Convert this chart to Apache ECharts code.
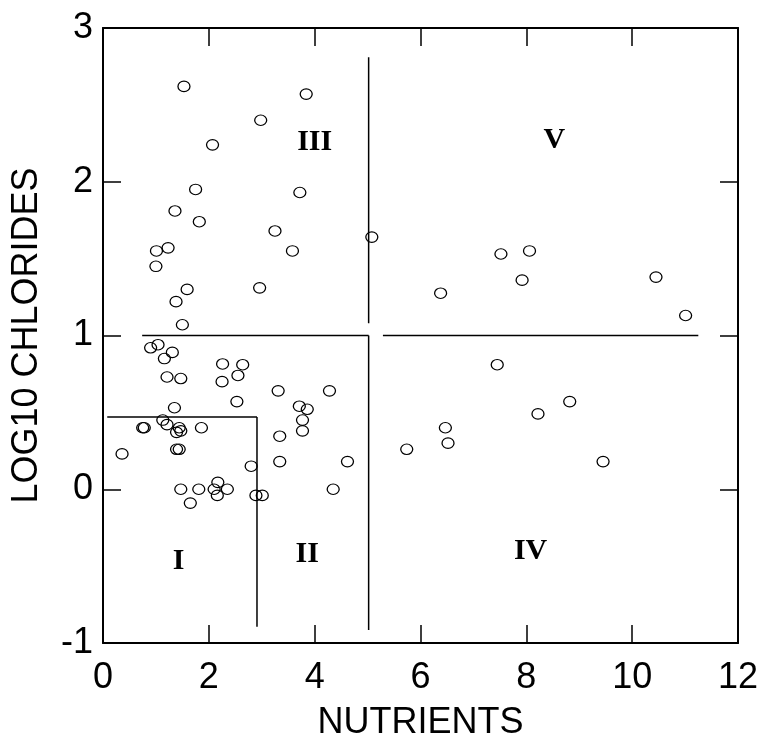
<!DOCTYPE html>
<html>
<head>
<meta charset="utf-8">
<script src="https://cdn.jsdelivr.net/npm/echarts@6/dist/echarts.min.js"></script>
<style>html,body{margin:0;padding:0;background:#fff;}#chart{width:762px;height:736px;}</style>
</head>
<body>
<div id="chart"></div>
<script>
// Data points: [nutrients, log10 chlorides]
var nutrients = [1.53,3.84,2.98,2.07,1.75,3.72,1.36,1.82,3.25,5.08,1.01,1.23,3.58,1.00,1.59,2.96,1.38,1.50,
  0.90,1.04,1.31,1.16,2.26,2.64,2.55,2.25,1.21,1.47,3.31,4.28,2.53,1.35,3.71,3.86,3.77,1.13,1.21,0.75,0.78,1.44,1.39,1.47,1.86,3.77,3.34,0.36,1.39,1.44,2.80,3.34,4.62,1.47,1.81,2.17,2.10,2.35,2.16,1.65,2.89,3.01,4.35,
  7.52,8.06,7.92,6.38,10.45,11.01,7.45,8.82,8.22,6.47,6.52,5.74,9.45];
var chlorides = [2.62,2.57,2.40,2.24,1.95,1.93,1.81,1.74,1.68,1.64,1.55,1.57,1.55,1.45,1.30,1.31,1.22,1.07,
  0.92,0.94,0.89,0.85,0.815,0.81,0.74,0.70,0.73,0.72,0.64,0.64,0.57,0.53,0.54,0.52,0.45,0.45,0.42,0.40,0.40,0.40,0.37,0.38,0.40,0.38,0.345,0.23,0.26,0.26,0.15,0.18,0.18,0.00,0.00,0.045,0.00,0.00,-0.04,-0.09,-0.04,-0.04,0.00,
  1.53,1.55,1.36,1.275,1.38,1.13,0.81,0.57,0.49,0.40,0.30,0.26,0.18];
// Boundary segments: [x1, y1, x2, y2]
var boundarySegments = [
  [5.02, 2.81, 5.02, 1.08],
  [5.02, 1.00, 5.02, -0.915],
  [0.74, 1.00, 5.02, 1.00],
  [5.29, 1.00, 11.25, 1.00],
  [0.08, 0.47, 2.91, 0.47],
  [2.91, 0.47, 2.91, -0.895]
];
// Region labels
var regionNames = ['I', 'II', 'III', 'IV', 'V'];
var regionX = [1.43, 3.86, 4.0, 8.08, 8.53];
var regionY = [-0.47, -0.42, 2.26, -0.40, 2.27];
var xTicks = [0, 2, 4, 6, 8, 10, 12];
var yTicks = [-1, 0, 1, 2, 3];

var pts = nutrients.map(function(x, i){ return [x, chlorides[i]]; });
var series = [];
boundarySegments.forEach(function(s){
  series.push({type:'line', data:[[s[0],s[1]],[s[2],s[3]]], symbol:'none', silent:true,
    lineStyle:{color:'#000', width:1.5}, animation:false, z:2});
});
series.push({type:'scatter', data:pts, symbol:'circle', symbolSize:[12,10.5],
  itemStyle:{color:'rgba(0,0,0,0)', borderColor:'#000', borderWidth:1.2, opacity:1}, animation:false, z:3});
series.push({type:'scatter', data:regionNames.map(function(n,i){return {value:[regionX[i],regionY[i]], name:n};}),
  symbolSize:1, itemStyle:{color:'rgba(0,0,0,0)'}, animation:false, z:4,
  label:{show:true, position:'inside', formatter:'{b}', fontFamily:'"Liberation Serif","Times New Roman",serif',
    fontWeight:'bold', fontSize:30, color:'#000', opacity:1}});

var axisFont = '"Liberation Sans", Arial, sans-serif';
var xMin = xTicks[0], xMax = xTicks[xTicks.length-1], yMin = yTicks[0], yMax = yTicks[yTicks.length-1];
var tickStyle = {inside:true, length:18, lineStyle:{color:'#000', width:1.5}};
var lineStyle = {onZero:false, lineStyle:{color:'#000', width:2}};
var option = {
  backgroundColor:'#fff',
  grid:{left:103, right:24, top:28, bottom:93, show:false, containLabel:false, outerBoundsMode:'none'},
  xAxis:[{
    type:'value', min:xMin, max:xMax, interval:2, position:'bottom',
    name:'NUTRIENTS', nameLocation:'middle', nameGap:62,
    nameTextStyle:{fontFamily:axisFont, fontSize:36, color:'#000'},
    axisLine:lineStyle, axisTick:tickStyle,
    axisLabel:{fontFamily:axisFont, fontSize:36, color:'#000', margin:17},
    splitLine:{show:false}
  },{
    type:'value', min:xMin, max:xMax, interval:2, position:'top',
    axisLine:lineStyle, axisTick:tickStyle,
    axisLabel:{show:false}, splitLine:{show:false}
  }],
  yAxis:[{
    type:'value', min:yMin, max:yMax, interval:1, position:'left',
    name:'LOG10 CHLORIDES', nameLocation:'middle', nameGap:58,
    nameTextStyle:{fontFamily:axisFont, fontSize:36, color:'#000'},
    axisLine:lineStyle, axisTick:tickStyle,
    axisLabel:{fontFamily:axisFont, fontSize:36, color:'#000', margin:10},
    splitLine:{show:false}
  },{
    type:'value', min:yMin, max:yMax, interval:1, position:'right',
    axisLine:lineStyle, axisTick:tickStyle,
    axisLabel:{show:false}, splitLine:{show:false}
  }],
  series:series
};
var chart = echarts.init(document.getElementById('chart'), null, {renderer:'canvas'});
chart.setOption(option);
</script>
</body>
</html>
